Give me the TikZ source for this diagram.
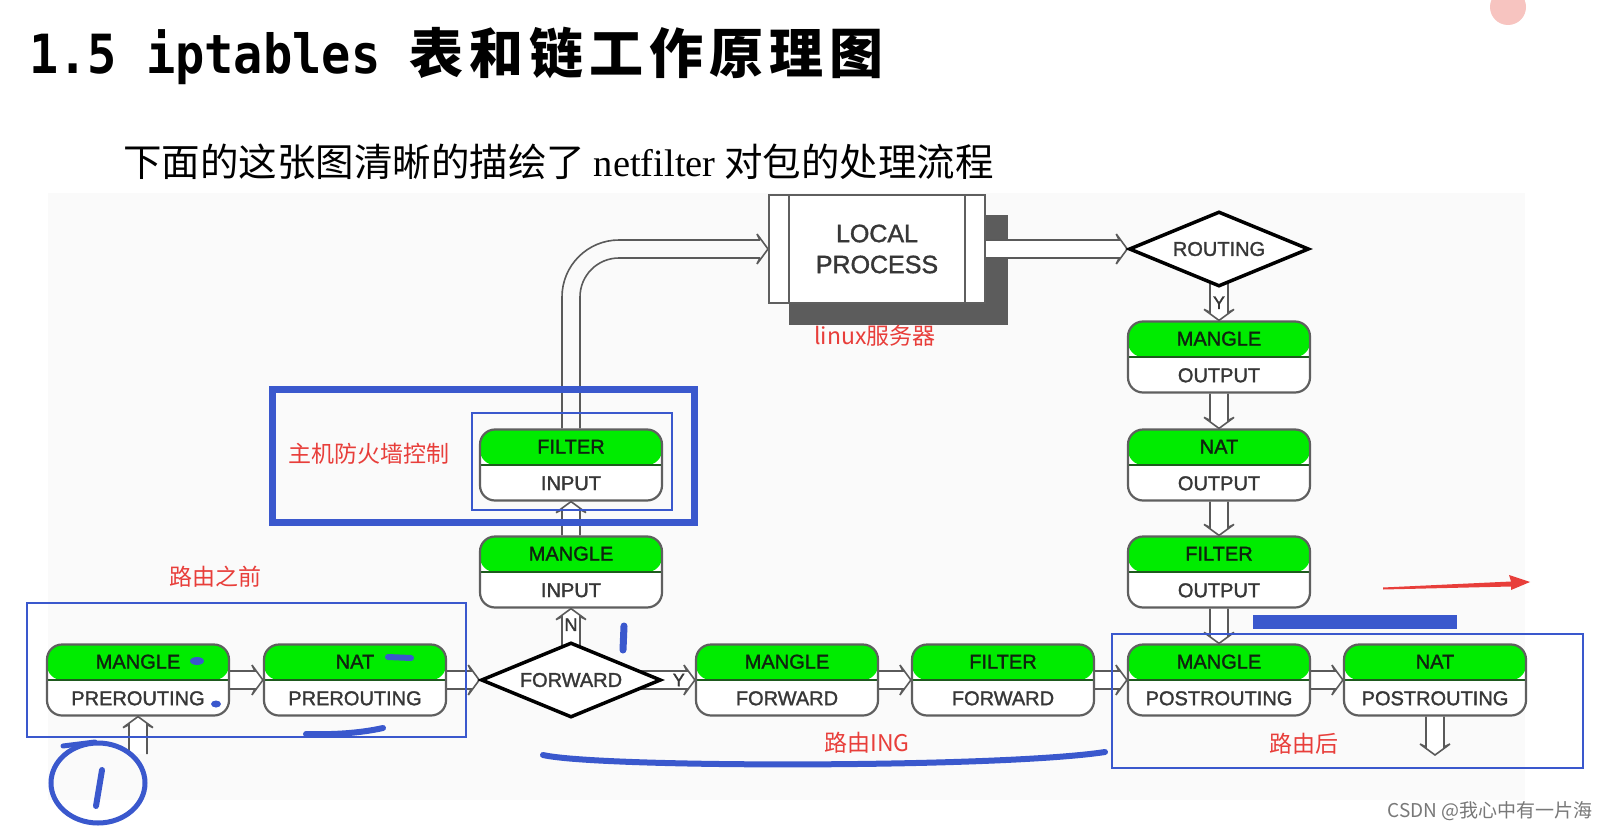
\documentclass[tikz,border=0pt]{standalone}
\usepackage{fontspec}
\setmainfont{Liberation Sans}
\newfontfamily\cjk{Noto Sans CJK SC}
\newfontfamily\monob{DejaVu Sans Mono}[FakeStretch=0.9]
\newfontfamily\serifl{Liberation Serif}
\newfontfamily\boxfont{Liberation Sans}[FakeBold=1.5]
\usetikzlibrary{calc,shapes.geometric,arrows.meta}
\definecolor{boxgreen}{RGB}{0,236,0}
\definecolor{divgreen}{RGB}{30,90,30}
\definecolor{boxline}{RGB}{95,95,95}
\definecolor{toptxt}{RGB}{15,35,15}
\definecolor{bottxt}{RGB}{55,55,55}
\definecolor{pipegray}{RGB}{90,90,90}
\definecolor{shadowgray}{RGB}{92,92,92}
\definecolor{annred}{RGB}{232,62,58}
\definecolor{annblue}{RGB}{58,88,205}
\definecolor{panelgray}{RGB}{250,250,250}
\definecolor{pinkdot}{RGB}{247,196,192}
\definecolor{wmgray}{RGB}{120,120,120}
\pgfdeclarelayer{back}
\pgfdeclarelayer{pipes}
\pgfsetlayers{back,pipes,main}
\newcommand\boxfnt{\boxfont\fontsize{20}{24}\selectfont}
\tikzset{
  chain/.style={draw=boxline, line width=2.2pt, rounded corners=15pt, fill=white,
    minimum width=182pt, minimum height=71pt, inner sep=0pt,
    path picture={
      \fill[boxgreen] (path picture bounding box.north west) rectangle (path picture bounding box.east);
      \draw[divgreen, line width=2pt] (path picture bounding box.west) -- (path picture bounding box.east);}},
  ctop/.style={font=\boxfnt, text=toptxt, inner sep=0pt},
  cbot/.style={font=\boxfnt, text=bottxt, inner sep=0pt},
  decision/.style={diamond, aspect=2.4, draw=black, line width=3.5pt, fill=white,
    minimum width=180pt, minimum height=75pt, inner sep=0pt, font=\boxfnt, text=bottxt},
  lpbox/.style={draw=boxline, line width=2pt, fill=white, minimum width=216pt, minimum height=108pt,
    align=center, font=\boxfont\fontsize{25}{31}\selectfont, text=bottxt},
  pipe/.style={draw=pipegray, line width=1.6pt, fill=white, line join=miter},
  pipeline/.style={draw=pipegray, line width=1.6pt},
  piperight/.style={pipe, to path={($(\tikztostart)+(0,-9)$) -- ($(\tikztotarget)+(-8,-9)$) -- ($(\tikztotarget)+(-11,-15)$) -- (\tikztotarget) -- ($(\tikztotarget)+(-11,15)$) -- ($(\tikztotarget)+(-8,9)$) -- ($(\tikztostart)+(0,9)$)}},
  pipedown/.style={pipe, to path={($(\tikztostart)+(-9,0)$) -- ($(\tikztotarget)+(-9,-8)$) -- ($(\tikztotarget)+(-15,-11)$) -- (\tikztotarget) -- ($(\tikztotarget)+(15,-11)$) -- ($(\tikztotarget)+(9,-8)$) -- ($(\tikztostart)+(9,0)$)}},
  pipeup/.style={pipe, to path={($(\tikztostart)+(-9,0)$) -- ($(\tikztotarget)+(-9,8)$) -- ($(\tikztotarget)+(-15,11)$) -- (\tikztotarget) -- ($(\tikztotarget)+(15,11)$) -- ($(\tikztotarget)+(9,8)$) -- ($(\tikztostart)+(9,0)$)}},
  pipelabel/.style={font=\boxfont\fontsize{18}{20}\selectfont, text=bottxt, inner sep=0pt},
  redlab/.style={font=\cjk\fontsize{23}{26}\selectfont, text=annred, inner sep=0pt},
  handline/.style={annblue, line cap=round},
}
\newcommand\chainbox[4]{%
  \node[chain] (#1) at (#2) {};
  \node[ctop] (#1-t) at ($(#1.north)!.5!(#1.center)$) {#3};
  \node[cbot] (#1-b) at ($(#1.south)!.5!(#1.center)$) {#4};}
\begin{document}
\begin{tikzpicture}[x=1pt,y=-1pt]
\useasboundingbox (0,0) rectangle (1608,829);
\begin{pgfonlayer}{back}
  \fill[white] (0,0) rectangle (1608,829);
  \fill[panelgray] (48,193) rectangle (1525,800);
\end{pgfonlayer}
% title and subtitle
\node[anchor=west, inner sep=0pt] (title) at (29,56)
  {\fontsize{54}{60}\selectfont{\monob\bfseries 1.5 iptables }{\cjk\bfseries\addfontfeature{LetterSpace=11}表和链工作原理图}};
\node[anchor=west, inner sep=0pt] (sub) at (123,162)
  {\fontsize{38.5}{44}\selectfont\cjk 下面的这张图清晰的描绘了 {\serifl netfilter} 对包的处理流程};
\fill[pinkdot] (1508,7) circle[radius=18];
% chain boxes
\chainbox{mp}{138,680}{MANGLE}{PREROUTING}
\chainbox{np}{355,680}{NAT}{PREROUTING}
\chainbox{mf}{787,680}{MANGLE}{FORWARD}
\chainbox{ff}{1003,680}{FILTER}{FORWARD}
\chainbox{mpo}{1219,680}{MANGLE}{POSTROUTING}
\chainbox{npo}{1435,680}{NAT}{POSTROUTING}
\chainbox{mi}{571,572}{MANGLE}{INPUT}
\chainbox{fi}{571,465}{FILTER}{INPUT}
\chainbox{mo}{1219,357}{MANGLE}{OUTPUT}
\chainbox{no}{1219,465}{NAT}{OUTPUT}
\chainbox{fo}{1219,572}{FILTER}{OUTPUT}
\node[decision] (fwd) at (571,680) {FORWARD};
\node[decision] (rt) at (1219,249) {ROUTING};
\node[lpbox] (lp) at (877,249) {LOCAL\\PROCESS};
\draw[boxline, line width=2pt] ($(lp.north west)+(21,1)$) -- ($(lp.south west)+(21,-1)$);
\draw[boxline, line width=2pt] ($(lp.north east)+(-21,1)$) -- ($(lp.south east)+(-21,-1)$);
\coordinate (inp) at (138,754);
\coordinate (outp) at (1435,755);
\begin{pgfonlayer}{back}
  \fill[shadowgray] ($(lp.north west)+(21,21)$) rectangle ($(lp.south east)+(22,21)$);
\end{pgfonlayer}
% connectors
\begin{pgfonlayer}{pipes}
  \draw[pipeup] (inp) to (mp.south);
  \draw[piperight] (mp.east) to (np.west);
  \draw[piperight] (np.east) to (fwd.west);
  \draw[piperight] (fwd.center) to (mf.west);
  \draw[piperight] (mf.east) to (ff.west);
  \draw[piperight] (ff.east) to (mpo.west);
  \draw[piperight] (mpo.east) to (npo.west);
  \draw[pipedown] (npo.south) to (outp);
  \draw[pipeup] (fwd.center) to (mi.south);
  \draw[pipeup] (mi.north) to (fi.south);
  \draw[pipeline, rounded corners=57pt] ($(fi.north)+(-9,0)$) |- ($(lp.west)+(-8,-9)$);
  \draw[pipeline, rounded corners=39pt] ($(fi.north)+(9,0)$) |- ($(lp.west)+(-8,9)$);
  \draw[pipeline] ($(lp.west)+(-8,-9)$) -- ($(lp.west)+(-11,-15)$) -- (lp.west) -- ($(lp.west)+(-11,15)$) -- ($(lp.west)+(-8,9)$);
  \draw[piperight] (lp.east) to (rt.west);
  \draw[pipedown] (rt.center) to (mo.north);
  \draw[pipedown] (mo.south) to (no.north);
  \draw[pipedown] (no.south) to (fo.north);
  \draw[pipedown] (fo.south) to (mpo.north);
\end{pgfonlayer}
\node[pipelabel] (ylab-rt) at ($(rt.south)!.45!(mo.north)$) {Y};
\node[pipelabel] (ylab-fwd) at ($(fwd.east)!.5!(mf.west)$) {Y};
\node[pipelabel] (nlab-fwd) at ($(fwd.north)!.5!(mi.south)$) {N};
% blue annotations
\draw[annblue, line width=7pt] (272,389) rectangle (694,522);
\draw[annblue, line width=2.5pt] (472,413) rectangle (672,510);
\draw[annblue, line width=2.5pt] (27,603) rectangle (466,737);
\draw[annblue, line width=2.5pt] (1112,634) rectangle (1583,768);
\fill[annblue] (1253,615) rectangle (1457,629);
\draw[handline, line width=5pt] (98,783) ellipse [x radius=47, y radius=40];
\draw[handline, line width=6pt] (102,770) -- (96,806);
\draw[handline, line width=5pt] (63,746) -- (95,742);
\draw[handline, line width=7pt] (624,626) -- (623,650);
\draw[handline, line width=6pt] (543,755) .. controls (600,768) and (1000,768) .. (1105,752);
\fill[annblue] (197,661) ellipse [x radius=7, y radius=4];
\fill[annblue] (216,704) ellipse [x radius=5, y radius=3.5];
\draw[handline, line width=6pt] (388,657) -- (411,658);
\draw[handline, line width=6pt] (306,734) .. controls (340,735) and (365,732) .. (383,728);
% red annotations
\node[redlab] (lbl-linux) at (875,336) {linux服务器};
\node[redlab] (lbl-host) at (369,454) {主机防火墙控制};
\node[redlab] (lbl-pre) at (215,577) {路由之前};
\node[redlab] (lbl-ing) at (867,743) {路由ING};
\node[redlab] (lbl-post) at (1304,744) {路由后};
\fill[annred] (1383,587.5) -- (1511,581.5) -- (1509,575) -- (1530,582) -- (1511,590) -- (1511,586.5) -- (1383,589.5) -- cycle;
% watermark
\node[anchor=east, inner sep=0pt, text=wmgray, font=\cjk\fontsize{19}{22}\selectfont] (wm) at (1593,811) {CSDN @我心中有一片海};
\end{tikzpicture}
\end{document}
